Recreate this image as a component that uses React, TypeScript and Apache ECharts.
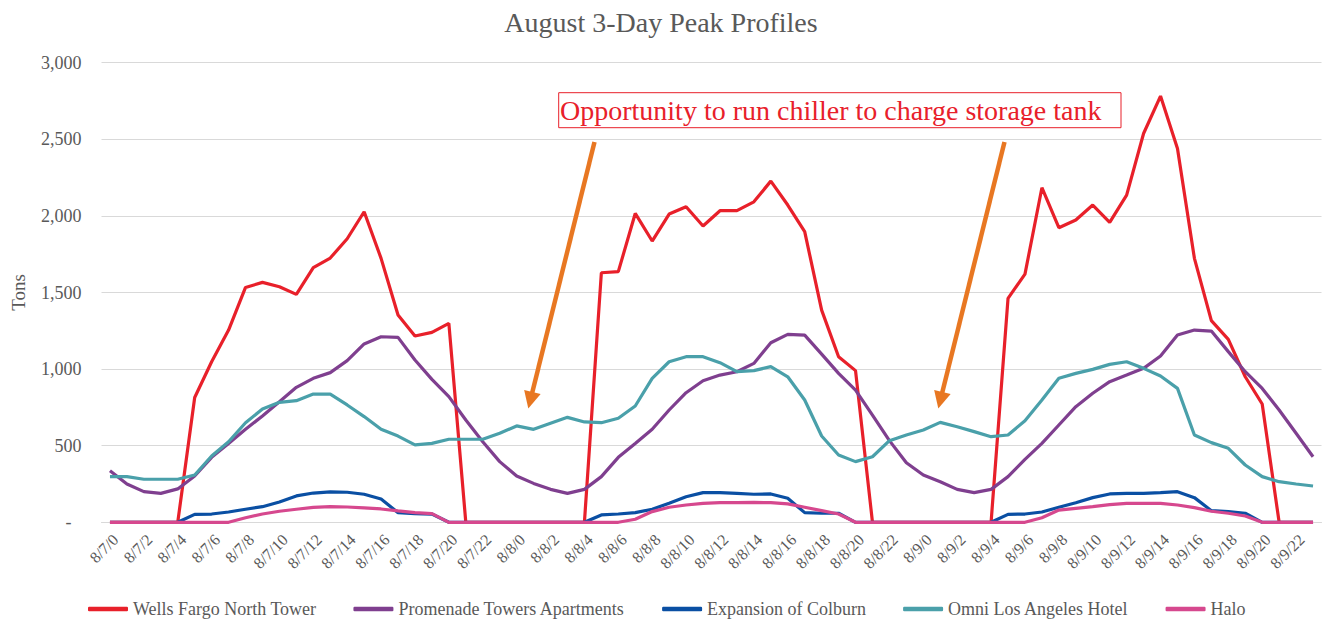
import React, { useEffect, useRef } from "react";
import * as echarts from "echarts";

const days = ["8/7", "8/8", "8/9"];
const hours = [
  0, 1, 2, 3, 4, 5, 6, 7, 8, 9, 10, 11, 12, 13, 14, 15, 16, 17, 18, 19, 20, 21, 22, 23,
];
const categories: string[] = [];
days.forEach((d) => hours.forEach((h) => categories.push(`${d}/${h}`)));

const wellsFargo = [
  0, 0, 0, 0, 0, 815, 1048, 1255, 1533, 1566, 1538, 1488, 1662, 1725, 1851, 2027, 1723, 1353, 1216, 1240, 1298, 0, 0, 0,
  0, 0, 0, 0, 0, 1629, 1636, 2016, 1836, 2012, 2060, 1934, 2034, 2034, 2092, 2227, 2071, 1897, 1385, 1081, 990, 0, 0, 0,
  0, 0, 0, 0, 0, 1462, 1620, 2184, 1923, 1973, 2071, 1958, 2136, 2538, 2782, 2440, 1723, 1316, 1194, 950, 772, 0, 0, 0,
];
const promenade = [
  337, 250, 200, 189, 218, 302, 424, 515, 607, 694, 787, 881, 940, 977, 1055, 1164, 1211, 1207, 1059, 933, 820, 668, 526, 396,
  302, 254, 215, 189, 215, 298, 424, 515, 607, 733, 846, 924, 961, 983, 1037, 1172, 1227, 1222, 1098, 972, 863, 700, 533, 389,
  309, 265, 215, 194, 215, 298, 411, 515, 635, 755, 842, 918, 961, 1005, 1085, 1222, 1255, 1248, 1114, 983, 874, 733, 581, 428,
];
const colburn = [
  0, 0, 0, 0, 0, 52, 54, 67, 85, 102, 133, 172, 191, 198, 196, 183, 152, 63, 57, 54, 0, 0, 0, 0,
  0, 0, 0, 0, 0, 48, 54, 63, 85, 124, 167, 194, 194, 189, 183, 185, 157, 63, 59, 59, 0, 0, 0, 0,
  0, 0, 0, 0, 0, 52, 54, 67, 98, 128, 161, 185, 189, 189, 194, 200, 161, 76, 70, 59, 0, 0, 0, 0,
];
const omni = [
  298, 298, 281, 281, 281, 309, 433, 526, 650, 740, 783, 794, 837, 837, 766, 690, 607, 563, 505, 515, 542, 542, 542, 581,
  629, 607, 646, 685, 655, 650, 679, 759, 940, 1048, 1081, 1081, 1042, 983, 990, 1016, 950, 798, 563, 439, 396, 428, 533, 570,
  602, 652, 624, 592, 559, 570, 663, 798, 940, 972, 998, 1031, 1048, 1005, 955, 874, 570, 520, 483, 374, 298, 265, 250, 237,
];
const halo = [
  0, 0, 0, 0, 0, 0, 0, 0, 30, 54, 72, 85, 98, 102, 100, 94, 87, 74, 63, 57, 0, 0, 0, 0,
  0, 0, 0, 0, 0, 0, 0, 20, 70, 98, 113, 124, 128, 128, 130, 128, 120, 98, 76, 54, 0, 0, 0, 0,
  0, 0, 0, 0, 0, 0, 0, 30, 80, 91, 102, 115, 124, 124, 124, 113, 96, 72, 59, 41, 0, 0, 0, 0,
];

const seriesNames = [
  "Wells Fargo North Tower",
  "Promenade Towers Apartments",
  "Expansion of Colburn",
  "Omni Los Angeles Hotel",
  "Halo",
];
const seriesData = [wellsFargo, promenade, colburn, omni, halo];
const seriesColors = ["#E8202A", "#7F3F8F", "#0A4FA3", "#4AA0AA", "#D6488E"];

const titleText = "August 3-Day Peak Profiles";
const annotationText = "Opportunity to run chiller to charge storage tank";
const yAxisName = "Tons";

const FONT = '"Liberation Serif", "Times New Roman", serif';
const GRAY = "#595959";
const RED = "#E8202A";
const ORANGE = "#E87722";

function arrow(sx: number, sy: number, tx: number, ty: number) {
  const dx = tx - sx;
  const dy = ty - sy;
  const len = Math.sqrt(dx * dx + dy * dy);
  const ux = dx / len;
  const uy = dy / len;
  const px = -uy;
  const py = ux;
  const hl = 17;
  const hw = 8.5;
  const bx = tx - hl * ux;
  const by = ty - hl * uy;
  return [
    {
      type: "line",
      shape: { x1: sx, y1: sy, x2: tx - 10 * ux, y2: ty - 10 * uy },
      style: { stroke: ORANGE, lineWidth: 4.5 },
      z: 100,
    },
    {
      type: "polygon",
      shape: {
        points: [
          [tx, ty],
          [bx + hw * px, by + hw * py],
          [bx - hw * px, by - hw * py],
        ],
      },
      style: { fill: ORANGE },
      z: 100,
    },
  ];
}

export default function App() {
  const ref = useRef<HTMLDivElement>(null);

  useEffect(() => {
    if (!ref.current) return;
    const chart = echarts.init(ref.current, undefined, { renderer: "svg" });
    chart.setOption({
      animation: false,
      backgroundColor: "#ffffff",
      title: {
        text: titleText,
        left: "center",
        top: 8,
        padding: 0,
        textStyle: { fontFamily: FONT, fontSize: 28, fontWeight: "normal", color: GRAY },
      },
      legend: {
        data: seriesNames,
        left: 88,
        top: 600,
        padding: 0,
        itemGap: 37,
        itemWidth: 40,
        itemHeight: 4.5,
        icon: "roundRect",
        textStyle: { fontFamily: FONT, fontSize: 18, color: GRAY },
      },
      grid: {
        left: 101.5,
        right: 0.5,
        top: 62.7,
        bottom: 97.7,
        outerBoundsMode: "none",
      },
      xAxis: {
        type: "category",
        data: categories,
        boundaryGap: true,
        axisLine: { show: true, lineStyle: { color: "#D9D9D9", width: 1 } },
        axisTick: { show: false },
        axisLabel: {
          interval: 1,
          rotate: 45,
          fontFamily: FONT,
          fontSize: 16,
          color: GRAY,
          margin: 9,
          verticalAlign: "top",
        },
        splitLine: { show: false },
      },
      yAxis: {
        type: "value",
        min: 0,
        max: 3000,
        interval: 500,
        name: yAxisName,
        nameLocation: "middle",
        nameRotate: 90,
        nameGap: 74,
        nameTextStyle: { fontFamily: FONT, fontSize: 19, color: GRAY },
        axisLine: { show: false },
        axisTick: { show: false },
        axisLabel: {
          margin: 20,
          fontFamily: FONT,
          fontSize: 18,
          color: GRAY,
          formatter: (v: number) =>
            v === 0 ? "{d|-}" : v.toLocaleString("en-US"),
          rich: {
            d: { fontFamily: FONT, fontSize: 18, color: GRAY, padding: [0, 10, 0, 0] },
          },
        },
        splitLine: { lineStyle: { color: "#D9D9D9", width: 1 } },
      },
      series: seriesNames.map((name, i) => ({
        name,
        type: "line",
        data: seriesData[i],
        symbol: "none",
        color: seriesColors[i],
        lineStyle: { color: seriesColors[i], width: 3.2 },
        z: 2 + i,
      })),
      graphic: [
        {
          type: "rect",
          shape: { x: 558.7, y: 92.7, width: 562.3, height: 35 },
          style: { fill: "none", stroke: RED, lineWidth: 1 },
          z: 100,
        },
        {
          type: "text",
          x: 560,
          y: 110.5,
          style: {
            text: annotationText,
            fill: RED,
            fontFamily: FONT,
            fontSize: 28,
            verticalAlign: "middle",
            align: "left",
          },
          z: 101,
        },
        ...arrow(594.5, 142, 528.3, 408.5),
        ...arrow(1004.5, 142, 938.3, 408.5),
      ],
    });
    return () => chart.dispose();
  }, []);

  return (
    <div
      ref={ref}
      style={{ position: "fixed", left: 0, top: 0, width: 1322, height: 620 }}
    />
  );
}
